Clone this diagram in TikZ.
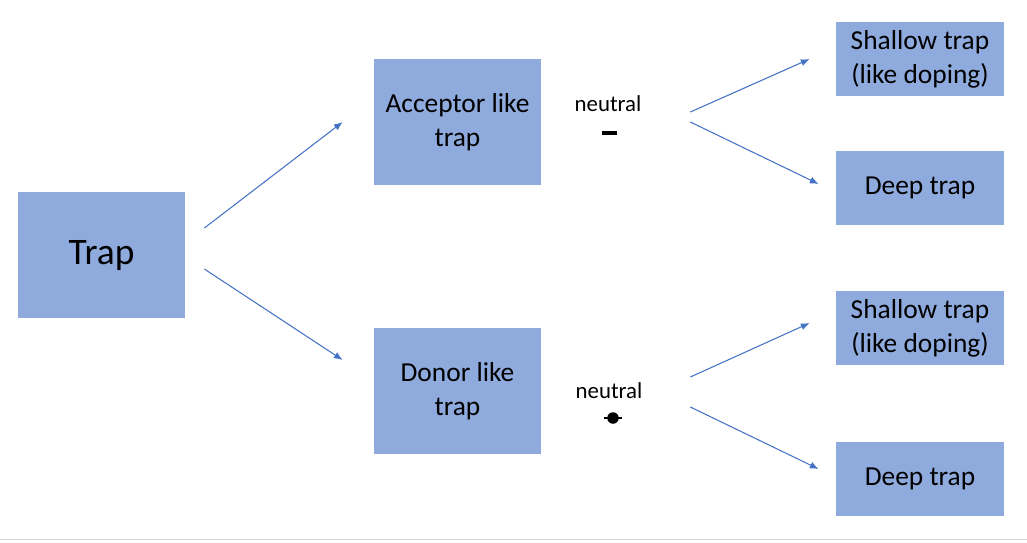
\documentclass[tikz,border=0pt]{standalone}
\usepackage{fontspec}
\setmainfont{Carlito}
\usepackage{tikz}
\usetikzlibrary{positioning,arrows.meta}

\definecolor{boxblue}{HTML}{8FAADC}
\definecolor{linkblue}{HTML}{4472C4}

\begin{document}
\begin{tikzpicture}[
    box/.style={fill=boxblue, draw=none, align=center, inner sep=0pt,
        font=\fontsize{15.6}{19.3}\selectfont},
    bigbox/.style={box, minimum width=3.34cm, minimum height=2.53cm},
    smallbox/.style={box, minimum width=3.36cm, minimum height=1.48cm},
    link/.style={draw=linkblue, line width=0.6pt, -{Latex[length=5pt,width=4pt]}},
    tag/.style={font=\fontsize{13}{15}\selectfont}
]
% Canvas
\useasboundingbox (0,0) rectangle (20.54,-10.84);
\draw[gray!35, line width=1pt] (0,-10.79) -- (20.54,-10.79);

% Boxes
\node[bigbox, font=\fontsize{21.3}{25}\selectfont] (trap) at (2.03,-5.10) {Trap};
\node[bigbox] (acc) at (9.15,-2.44) {Acceptor like\\trap};
\node[bigbox] (don) at (9.15,-7.82) {Donor like\\trap};
\node[smallbox] (accshallow) at (18.40,-1.18) {Shallow trap\\(like doping)};
\node[smallbox] (accdeep) at (18.40,-3.76) {Deep trap};
\node[smallbox] (donshallow) at (18.40,-6.56) {Shallow trap\\(like doping)};
\node[smallbox] (dondeep) at (18.40,-9.58) {Deep trap};

% Neutral labels
\node[tag] (accneutral) at (12.16,-2.08) {neutral};
\node[tag] (donneutral) at (12.18,-7.82) {neutral};
\draw[line width=1.8pt] (12.04,-2.66) -- (12.33,-2.66);
\draw[line width=1.3pt] (12.08,-8.36) -- (12.44,-8.36);
\fill (12.26,-8.36) circle (0.115);

% Arrows
\draw[link] ([shift={(0.38,0.54)}]trap.east) -- ([shift={(-0.62,0)}]acc.west);
\draw[link] ([shift={(0.38,-0.28)}]trap.east) -- ([shift={(-0.62,0.62)}]don.west);
\draw[link] ([shift={(2.98,0.2)}]acc.east) -- ([shift={(-0.52,0)}]accshallow.west);
\draw[link] ([shift={(2.98,0)}]acc.east) -- ([shift={(-0.34,0.08)}]accdeep.west);
\draw[link] ([shift={(2.98,0.28)}]don.east) -- ([shift={(-0.52,0.1)}]donshallow.west);
\draw[link] ([shift={(2.98,-0.32)}]don.east) -- ([shift={(-0.34,0.2)}]dondeep.west);

\end{tikzpicture}
\end{document}
